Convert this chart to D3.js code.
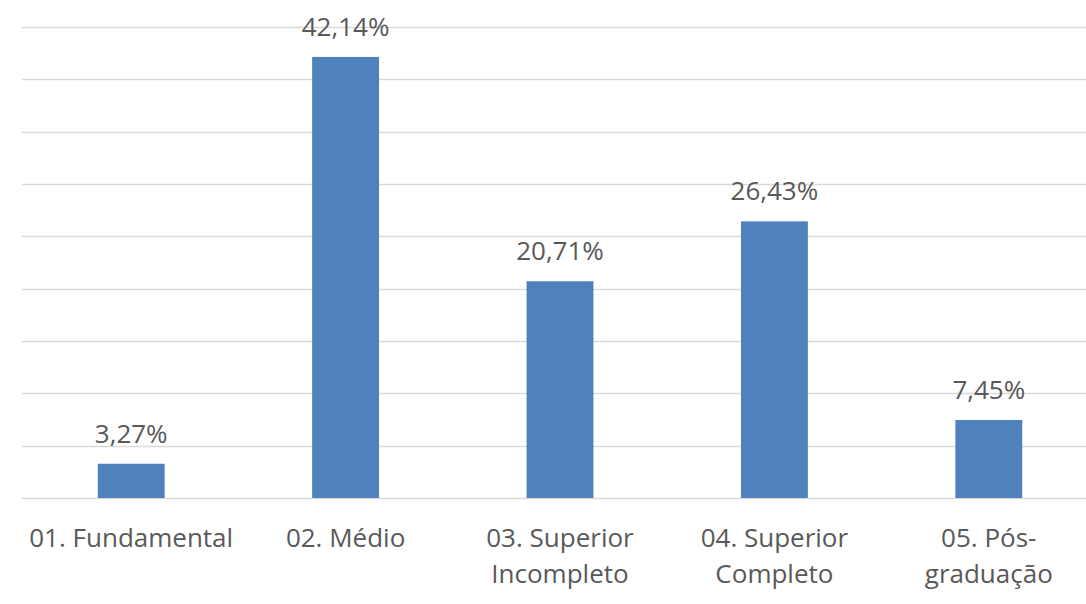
<!DOCTYPE html>
<html><head><meta charset="utf-8">
<script src="https://cdn.jsdelivr.net/npm/d3@7"></script>
<style>body{margin:0;background:#fff;} text{font-family:"Open Sans","Noto Sans",sans-serif;fill:#595959;}</style>
</head><body>
<svg id="c" width="1086" height="604"></svg>
<script>
const categories = ["01. Fundamental", "02. Médio", "03. Superior Incompleto", "04. Superior Completo", "05. Pós-graduação"];
const catLines = [["01. Fundamental"], ["02. Médio"], ["03. Superior", "Incompleto"], ["04. Superior", "Completo"], ["05. Pós-", "graduação"]];
const values = [3.27, 42.14, 20.71, 26.43, 7.45];
const valueLabels = ["3,27%", "42,14%", "20,71%", "26,43%", "7,45%"];
const yTicks = [0, 5, 10, 15, 20, 25, 30, 35, 40, 45];

const svg = d3.select("#c");
const x = d3.scaleBand().domain(categories).range([24, 1096]).paddingInner(0.688).paddingOuter(0.344);
const y = d3.scaleLinear().domain([0, 45]).range([498, 27]);

svg.append("g").selectAll("line").data(yTicks).join("line")
  .attr("x1", 22).attr("x2", 1086)
  .attr("y1", d => Math.round(y(d)) + 0.5).attr("y2", d => Math.round(y(d)) + 0.5)
  .attr("stroke", "#d9d9d9").attr("stroke-width", 1.3);

svg.append("g").selectAll("rect").data(values).join("rect")
  .attr("x", (d, i) => x(categories[i]))
  .attr("width", x.bandwidth())
  .attr("y", d => y(d))
  .attr("height", d => y(0) - y(d))
  .attr("fill", "#4f81bd");

svg.append("g").selectAll("text").data(values).join("text")
  .attr("x", (d, i) => x(categories[i]) + x.bandwidth() / 2)
  .attr("y", d => y(d) - 21)
  .attr("text-anchor", "middle")
  .style("font-size", "26px")
  .text((d, i) => valueLabels[i]);

const cat = svg.append("g").selectAll("text").data(catLines).join("text")
  .attr("x", (d, i) => x(categories[i]) + x.bandwidth() / 2)
  .attr("y", 547)
  .attr("text-anchor", "middle")
  .style("font-size", "26px");
cat.selectAll("tspan").data(d => d).join("tspan")
  .attr("x", function() { return this.parentNode.getAttribute("x"); })
  .attr("dy", (d, i) => i === 0 ? 0 : 36)
  .text(d => d);
</script>
</body></html>
